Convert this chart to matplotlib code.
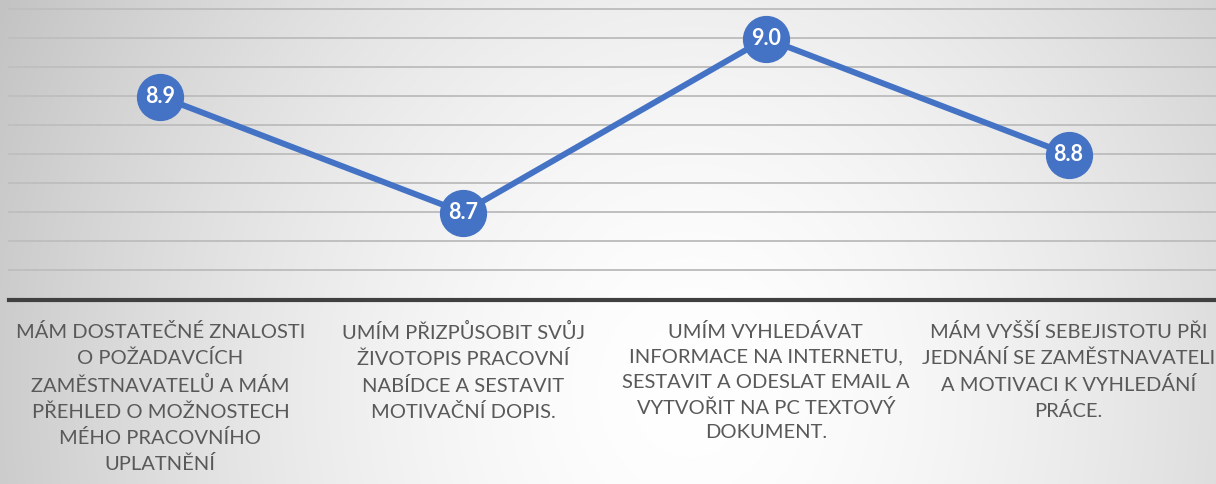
import numpy as np
import matplotlib
matplotlib.use("Agg")
import matplotlib.pyplot as plt

categories = [
    "MÁM DOSTATEČNÉ ZNALOSTI\nO POŽADAVCÍCH\nZAMĚSTNAVATELŮ A MÁM\nPŘEHLED O MOŽNOSTECH\nMÉHO PRACOVNÍHO\nUPLATNĚNÍ",
    "UMÍM PŘIZPŮSOBIT SVŮJ\nŽIVOTOPIS PRACOVNÍ\nNABÍDCE A SESTAVIT\nMOTIVAČNÍ DOPIS.",
    "UMÍM VYHLEDÁVAT\nINFORMACE NA INTERNETU,\nSESTAVIT A ODESLAT EMAIL A\nVYTVOŘIT NA PC TEXTOVÝ\nDOKUMENT.",
    "MÁM VYŠŠÍ SEBEJISTOTU PŘI\nJEDNÁNÍ SE ZAMĚSTNAVATELI\nA MOTIVACI K VYHLEDÁNÍ\nPRÁCE.",
]
values = [8.9, 8.7, 9.0, 8.8]
y_min, y_max, y_step = 8.55, 9.05, 0.05

W, H = 1216, 484
fig = plt.figure(figsize=(W / 100, H / 100), dpi=100)

# background radial gradient
bg = fig.add_axes([0, 0, 1, 1])
bg.set_axis_off()
yy, xx = np.mgrid[0:H, 0:W]
cx, cy, rx, ry = 690, 390, 800, 900
r = np.sqrt(((xx - cx) / rx) ** 2 + ((yy - cy) / ry) ** 2)
val = 1 - 0.25 * np.clip(r, 0, 1.3) ** 1.6
bg.imshow(np.dstack([val, val, val]), extent=[0, W, H, 0], aspect="auto", zorder=0)
bg.set_xlim(0, W)
bg.set_ylim(H, 0)

ax = fig.add_axes([9 / W, 184.5 / H, 1211 / W, 290 / H])
ax.set_facecolor("none")
x = np.arange(len(values))
ax.set_xlim(-0.5, len(values) - 0.5)
ax.set_ylim(y_min, y_max)

for t in np.arange(y_min + y_step, y_max + y_step / 2, y_step):
    ax.axhline(t, color="#bfbfbf", lw=1.4, zorder=1, clip_on=False)

for s in ["top", "left", "right"]:
    ax.spines[s].set_visible(False)
ax.spines["bottom"].set_color("#404040")
ax.spines["bottom"].set_linewidth(3)
ax.set_yticks([])

ax.plot(x, values, color="#4472C4", lw=4.3, marker="o", markersize=33,
        markerfacecolor="#4472C4", markeredgecolor="#4472C4", zorder=3, clip_on=False,
        solid_capstyle="round")
for xi, v in zip(x, values):
    ax.text(xi, v, f"{v:.1f}", color="white", fontsize=15.5, fontweight="bold",
            family="Lato", ha="center", va="center", zorder=4)

ax.set_xticks(x)
ax.set_xticklabels(categories, fontsize=14.5, family="Lato", color="#595959",
                   linespacing=1.55, va="top")
ax.tick_params(axis="x", length=0, pad=17)

fig.savefig("out.png", dpi=100)
